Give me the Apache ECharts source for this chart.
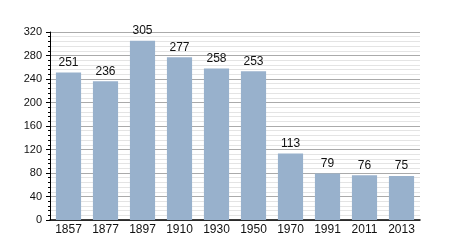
<!DOCTYPE html>
<html><head><meta charset="utf-8">
<script src="https://cdn.jsdelivr.net/npm/echarts@6/dist/echarts.min.js"></script>
<style>html,body{margin:0;padding:0;background:#fff}#c{width:450px;height:250px}</style>
</head><body><div id="c"></div>
<script>
const categories = ['1857','1877','1897','1910','1930','1950','1970','1991','2011','2013'];
const values = [251,236,305,277,258,253,113,79,76,75];
const chart = echarts.init(document.getElementById('c'));
chart.setOption({
  animation:false,
  textStyle:{fontFamily:'Liberation Sans, Arial, sans-serif'},
  grid:{left:50,right:30,top:32,bottom:30},
  xAxis:{type:'category',data:categories,
    axisLine:{lineStyle:{color:'#000',width:1.5}},
    axisTick:{show:false},
    axisLabel:{color:'#111',fontSize:12,margin:4}},
  yAxis:{type:'value',min:0,max:320,interval:40,
    axisLine:{show:true,lineStyle:{color:'#000'}},
    axisTick:{show:true,length:4,lineStyle:{color:'#000'}},
    minorTick:{show:true,splitNumber:5,length:2,lineStyle:{color:'#000'}},
    axisLabel:{color:'#111',fontSize:11,margin:8},
    splitLine:{lineStyle:{color:'#aaa'}},
    minorSplitLine:{show:true,lineStyle:{color:'#e4e4e4'}}},
  series:[{type:'bar',data:values,barCategoryGap:'32%',
    itemStyle:{color:'#98b1cc'},
    label:{show:true,position:'top',color:'#111',fontSize:12,distance:4}}]
});
</script></body></html>
